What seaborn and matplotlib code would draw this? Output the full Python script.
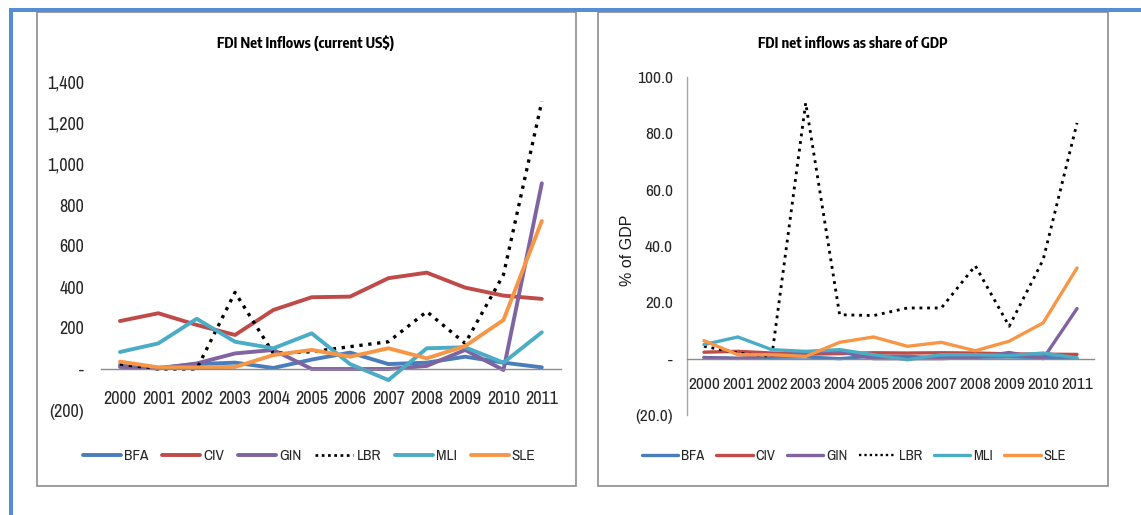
import numpy as np
import pandas as pd
import matplotlib
matplotlib.use("Agg")
import matplotlib.pyplot as plt
import seaborn as sns
from matplotlib.lines import Line2D
from matplotlib.patches import Rectangle

# data
years = [2000, 2001, 2002, 2003, 2004, 2005, 2006, 2007, 2008, 2009, 2010, 2011]
countries = ["BFA", "CIV", "GIN", "LBR", "MLI", "SLE"]

# FDI net inflows, current US$ (millions)
usd_bfa = [20, 5, 24, 31, 5, 46, 80, 24, 31, 60, 31, 8]
usd_civ = [234, 272, 215, 166, 288, 350, 353, 443, 470, 397, 358, 342]
usd_gin = [10, 3, 27, 76, 93, 0, 0, 0, 15, 93, -5, 906]
usd_lbr = [24, 0, 0, 374, 76, 84, 109, 133, 280, 125, 460, 1305]
usd_mli = [83, 125, 245, 133, 101, 174, 24, -54, 101, 106, 31, 179]
usd_sle = [36, 8, 8, 10, 68, 93, 60, 101, 52, 112, 239, 722]

# FDI net inflows, % of GDP
gdp_bfa = [0.4, 0.1, 0.5, 0.6, 0.0, 0.9, 0.8, 0.3, 0.5, 0.6, 0.4, 0.1]
gdp_civ = [2.3, 2.6, 2.0, 1.6, 1.8, 2.1, 2.0, 2.1, 2.0, 1.7, 1.6, 1.5]
gdp_gin = [0.4, 0.1, 1.0, 2.2, 2.5, 0.0, 0.0, 0.0, 0.4, 2.2, 0.0, 17.8]
gdp_lbr = [4.4, 2.0, 0.8, 90.8, 15.6, 15.3, 18.0, 18.0, 33.0, 11.5, 35.1, 83.7]
gdp_mli = [5.0, 7.7, 3.2, 2.6, 3.2, 1.4, -0.4, 1.4, 1.4, 1.1, 2.0, 0.3]
gdp_sle = [6.4, 1.4, 1.4, 0.8, 5.8, 7.7, 4.4, 5.8, 2.8, 6.2, 12.7, 32.2]

usd_ticks = [-200, 0, 200, 400, 600, 800, 1000, 1200, 1400]
usd_labels = ["(200)", "-", "200", "400", "600", "800", "1,000", "1,200", "1,400"]
gdp_ticks = [-20, 0, 20, 40, 60, 80, 100]
gdp_labels = ["(20.0)", "-", "20.0", "40.0", "60.0", "80.0", "100.0"]

colors = {"BFA": "#4A7DBA", "CIV": "#BE4B48", "GIN": "#8064A2",
          "LBR": "#000000", "MLI": "#4BACC6", "SLE": "#F79646"}

usd = pd.DataFrame({"year": years, "BFA": usd_bfa, "CIV": usd_civ, "GIN": usd_gin,
                    "LBR": usd_lbr, "MLI": usd_mli, "SLE": usd_sle})
gdp = pd.DataFrame({"year": years, "BFA": gdp_bfa, "CIV": gdp_civ, "GIN": gdp_gin,
                    "LBR": gdp_lbr, "MLI": gdp_mli, "SLE": gdp_sle})

sns.set_style("white")
plt.rcParams["font.family"] = ["Archivo Narrow", "Liberation Sans", "DejaVu Sans"]
txt = "#262626"
title_font = ["Encode Sans Condensed", "Archivo Narrow", "Liberation Sans"]

fig = plt.figure(figsize=(11.41, 5.15), dpi=100)
W, H = 1141, 515

def fx(x):
    return x / W

def fy(y):
    return 1 - y / H

ax1 = fig.add_axes([fx(100.8), fy(410), fx(561 - 100.8), (410 - 82) / H])
ax2 = fig.add_axes([fx(687), fy(415), fx(1094 - 687), (415 - 77) / H])


def draw(ax, df, lw):
    for c in countries:
        if c == "LBR":
            sns.lineplot(x="year", y=c, data=df, ax=ax, color=colors[c], lw=lw * 0.85,
                         linestyle=(0, (1, 1.7)))
        else:
            sns.lineplot(x="year", y=c, data=df, ax=ax, color=colors[c], lw=lw)
    ax.set_xlim(1999.5, 2011.5)
    ax.set_xticks(years)
    ax.set_xticklabels([str(y) for y in years])
    ax.set_xlabel("")
    ax.set_ylabel("")
    for s in ["top", "right"]:
        ax.spines[s].set_visible(False)
    ax.spines["bottom"].set_position(("data", 0))
    ax.spines["bottom"].set_color("#8C8C8C")
    ax.spines["bottom"].set_linewidth(1.0)
    ax.set_facecolor("none")


draw(ax1, usd, 2.8)
ax1.set_ylim(-200, 1400)
ax1.set_yticks(usd_ticks)
ax1.set_yticklabels(usd_labels)
ax1.spines["left"].set_visible(False)
ax1.tick_params(axis="y", length=0, pad=12, labelsize=13, labelcolor=txt)
ax1.tick_params(axis="x", length=0, pad=16, labelsize=13, labelcolor=txt)

draw(ax2, gdp, 2.4)
ax2.set_ylim(-20, 100)
ax2.set_yticks(gdp_ticks)
ax2.set_yticklabels(gdp_labels)
ax2.spines["left"].set_color("#A6A6A6")
ax2.spines["left"].set_linewidth(1.0)
ax2.tick_params(axis="y", length=3, width=0.8, color="#A6A6A6", pad=7, labelsize=12.5, labelcolor=txt)
ax2.tick_params(axis="x", length=0, pad=13, labelsize=12.5, labelcolor=txt)
fig.text(fx(627), fy(250), "% of GDP", rotation=90, ha="center", va="center",
         fontsize=11.5, color="#1a1a1a", family="Liberation Sans")

# titles
fig.text(fx(306), fy(43), "FDI Net Inflows (current US$)", ha="center", va="center",
         fontsize=10.5, fontweight="bold", color="#000000", family=title_font)
fig.text(fx(853), fy(43), "FDI net inflows as share of GDP", ha="center", va="center",
         fontsize=10.5, fontweight="bold", color="#000000", family=title_font)

# legends
for ax, cx, lw, fs, hl, cs in [(ax1, 309, 2.8, 11, 2.5, 0.9), (ax2, 854, 2.4, 10.5, 2.5, 0.8)]:
    handles = []
    for c in countries:
        if c == "LBR":
            handles.append(Line2D([], [], color=colors[c], lw=lw * 0.7, linestyle=(0, (1, 1.3))))
        else:
            handles.append(Line2D([], [], color=colors[c], lw=lw))
    ax.legend(handles, countries, loc="center", bbox_to_anchor=(fx(cx), fy(456)),
              bbox_transform=fig.transFigure, ncol=6, frameon=False, fontsize=fs,
              handlelength=hl, handletextpad=0.2, columnspacing=cs,
              labelcolor=txt)

# chart frames and blue border
for x0, x1 in [(37, 576), (598, 1108)]:
    fig.add_artist(Rectangle((fx(x0), fy(486)), fx(x1 - x0), (486 - 12) / H,
                             transform=fig.transFigure, fill=False,
                             edgecolor="#8C8C8C", lw=1.2))
fig.add_artist(Rectangle((fx(9), fy(12)), fx(W - 9), 4 / H, transform=fig.transFigure,
                         facecolor="#558ED5", edgecolor="none"))
fig.add_artist(Rectangle((fx(9), 0), fx(4), fy(8), transform=fig.transFigure,
                         facecolor="#558ED5", edgecolor="none"))

fig.savefig("out.png", dpi=100)
